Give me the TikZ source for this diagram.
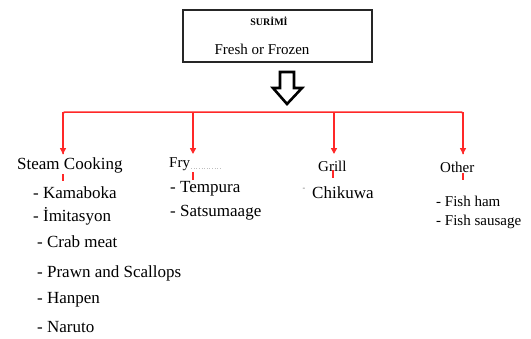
\documentclass[tikz,border=0pt]{standalone}
\usepackage{fontspec}
\setmainfont{Liberation Serif}
\usetikzlibrary{arrows.meta}
\definecolor{bred}{RGB}{255,40,40}
\tikzset{
  txt/.style={anchor=west, inner sep=0pt, text height=0.7em, text depth=0.2em},
  big/.style={txt, font=\fontsize{17}{17}\selectfont},
  mid/.style={txt, font=\fontsize{15}{15}\selectfont},
  redline/.style={draw=bred, line width=1.5pt},
  redarrow/.style={redline, -{Triangle[width=6pt,length=6pt]}},
  tick/.style={draw=bred, line width=1.8pt},
}
\begin{document}
\begin{tikzpicture}[x=1pt,y=-1pt]
\useasboundingbox (0,0) rectangle (531,338);
% top box
\node[draw=black!85, line width=1.5pt, minimum width=189pt, minimum height=52pt, inner sep=0pt] (box) at (277.5,36) {};
\node[inner sep=0pt, font=\fontsize{10}{10}\selectfont\bfseries] (title) at (269,21) {SURİMİ};
\node[inner sep=0pt, font=\fontsize{15}{15}\selectfont] (fresh) at (262,49) {Fresh or Frozen};
% hollow arrow
\draw[line width=2.6pt, line join=miter, fill=white] (280,72) -- (294,72) -- (294,88) -- (302,88) -- (287,104) -- (273,88) -- (280,88) -- cycle;
% bus coordinates
\coordinate (busL) at (63,112);
\coordinate (busR) at (463,112);
\coordinate (jfry) at (193,112);
\coordinate (jgrill) at (334,112);
\coordinate (endSC) at (63,154);
\coordinate (endFry) at (193,154);
\coordinate (endGrill) at (334,154);
\coordinate (endOther) at (463,154);
\draw[redline, rounded corners=1.5pt] (endSC) -- (busL) -- (busR) -- (endOther);
\draw[redarrow] (busL) -- (endSC);
\draw[redarrow] (jfry) -- (endFry);
\draw[redarrow] (jgrill) -- (endGrill);
\draw[redarrow] (busR) -- (endOther);
% category labels
\node[big] (sc) at (17,167) {Steam Cooking};
\node[mid] (fry) at (169,165) {Fry};
\node[mid] (grill) at (318,169) {Grill};
\node[mid] (other) at (440,170) {Other};
\draw[black!25, dotted, line width=0.6pt] (fry.east) ++(1,3) -- ++(30,0);
% red ticks
\draw[tick] (63,174) -- (63,181);
\draw[tick] (193,172) -- (193,180);
\draw[tick] (333,170) -- (333,178);
\draw[tick] (463,173) -- (463,180);
% steam cooking items
\node[big] (kam) at (33,196) {- Kamaboka};
\node[big] (imi) at (33,219) {- İmitasyon};
\node[big] (crab) at (37,245) {- Crab meat};
\node[big] (prawn) at (37,275) {- Prawn and Scallops};
\node[big] (hanpen) at (37,301) {- Hanpen};
\node[big] (naruto) at (37,330) {- Naruto};
% fry items
\node[big] (temp) at (170,190) {- Tempura};
\node[big] (sats) at (170,214) {- Satsumaage};
% grill items
\node[inner sep=0pt, font=\fontsize{8}{8}\selectfont, text=black!60] (gdash) at (304,189) {-};
\node[big] (chik) at (312,196) {Chikuwa};
% other items
\node[mid] (ham) at (436,204) {- Fish ham};
\node[mid] (saus) at (436,223) {- Fish sausage};
\end{tikzpicture}
\end{document}
